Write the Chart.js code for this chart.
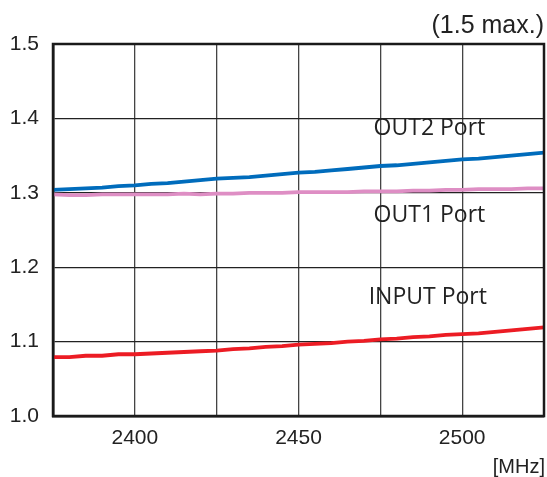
<!DOCTYPE html>
<html>
<head>
<meta charset="utf-8">
<script src="https://cdn.jsdelivr.net/npm/chart.js@4.4.0/dist/chart.umd.min.js"></script>
<style>
  html, body { margin: 0; padding: 0; background: #fff; }
  #wrap { width: 547px; height: 477px; }
</style>
</head>
<body>
<div id="wrap"><canvas id="vswr"></canvas></div>
<script>
// frequency points [MHz]
const freqs = [2375, 2380, 2385, 2390, 2395, 2400, 2405, 2410, 2415, 2420, 2425,
    2430, 2435, 2440, 2445, 2450, 2455, 2460, 2465, 2470, 2475,
    2480, 2485, 2490, 2495, 2500, 2505, 2510, 2515, 2520, 2525];

const out2Vswr = [1.304, 1.305, 1.306, 1.307, 1.309, 1.310, 1.312, 1.313, 1.315, 1.317, 1.319,
    1.320, 1.321, 1.323, 1.325, 1.327, 1.328, 1.330, 1.332, 1.334, 1.336,
    1.337, 1.339, 1.341, 1.343, 1.345, 1.346, 1.348, 1.350, 1.352, 1.354];

const out1Vswr = [1.298, 1.297, 1.297, 1.298, 1.298, 1.298, 1.298, 1.298, 1.299, 1.298, 1.299,
    1.299, 1.300, 1.300, 1.300, 1.301, 1.301, 1.301, 1.301, 1.302, 1.302,
    1.302, 1.303, 1.303, 1.304, 1.304, 1.305, 1.305, 1.305, 1.306, 1.306];

const inputVswr = [1.079, 1.079, 1.081, 1.081, 1.083, 1.083, 1.084, 1.085, 1.086, 1.087, 1.088,
    1.090, 1.091, 1.093, 1.094, 1.096, 1.097, 1.098, 1.100, 1.101, 1.103,
    1.104, 1.106, 1.107, 1.109, 1.110, 1.111, 1.113, 1.115, 1.117, 1.119];

const xGrid = [2375, 2400, 2425, 2450, 2475, 2500, 2525];
const xTickLabels = [2400, 2450, 2500];
const yTicks = [1.0, 1.1, 1.2, 1.3, 1.4, 1.5];

// port name labels, placed in data units
const portLabels = [
    { text: 'OUT2 Port', x: 2490, y: 1.387 },
    { text: 'OUT1 Port', x: 2490, y: 1.269 },
    { text: 'INPUT Port', x: 2489.5, y: 1.160 }
];

function pts(vals) {
    return freqs.map(function (f, i) { return { x: f, y: vals[i] }; });
}

const textPlugin = {
    id: 'textPlugin',
    afterDraw(chart) {
        const ctx = chart.ctx;
        const area = chart.chartArea;
        const xs = chart.scales.x, ys = chart.scales.y;
        ctx.save();
        // frame
        ctx.strokeStyle = '#1a1a1a';
        ctx.lineWidth = 2.5;
        ctx.strokeRect(area.left, area.top, area.right - area.left, area.bottom - area.top);

        ctx.fillStyle = '#222';
        ctx.font = '23px "Open Sans"';
        ctx.textAlign = 'center';
        ctx.textBaseline = 'middle';
        portLabels.forEach(function (l) {
            ctx.fillText(l.text, xs.getPixelForValue(l.x), ys.getPixelForValue(l.y));
        });

        ctx.font = '25px "Liberation Sans"';
        ctx.textAlign = 'right';
        ctx.fillText('(1.5 max.)', 544, 26);
        ctx.font = '20px "Liberation Sans"';
        ctx.fillText('[MHz]', 545, 467);
        ctx.restore();
    }
};

const data = {
    datasets: [
        {
            label: 'OUT2 Port',
            data: pts(out2Vswr),
            borderColor: 'rgb(0, 108, 188)',
            borderWidth: 3.8,
            pointRadius: 0,
            tension: 0
        },
        {
            label: 'OUT1 Port',
            data: pts(out1Vswr),
            borderColor: 'rgb(222, 142, 196)',
            borderWidth: 3.8,
            pointRadius: 0,
            tension: 0
        },
        {
            label: 'INPUT Port',
            data: pts(inputVswr),
            borderColor: 'rgb(236, 28, 36)',
            borderWidth: 3.8,
            pointRadius: 0,
            tension: 0
        }
    ]
};

const config = {
    type: 'line',
    data: data,
    options: {
        responsive: true,
        maintainAspectRatio: false,
        animation: false,
        layout: {
            padding: { top: 44, right: 3, left: 0, bottom: 0 }
        },
        plugins: {
            legend: { display: false },
            tooltip: { enabled: false }
        },
        scales: {
            x: {
                type: 'linear',
                min: 2375,
                max: 2525,
                afterFit: function (scale) {
                    scale.height = 61;
                    scale.paddingLeft = 0;
                    scale.paddingRight = 0;
                },
                afterBuildTicks: function (scale) {
                    scale.ticks = xGrid.map(function (v) { return { value: v }; });
                },
                ticks: {
                    autoSkip: false,
                    maxRotation: 0,
                    padding: 10,
                    color: '#222',
                    font: { family: 'Liberation Sans', size: 21 },
                    callback: function (v) { return xTickLabels.indexOf(v) >= 0 ? String(v) : ''; }
                },
                grid: { color: '#444', lineWidth: 1.3, drawTicks: false },
                border: { color: '#1a1a1a', width: 2.5 }
            },
            y: {
                min: 1.0,
                max: 1.5,
                afterFit: function (scale) {
                    scale.width = 53;
                    scale.paddingTop = 0;
                    scale.paddingBottom = 0;
                },
                afterBuildTicks: function (scale) {
                    scale.ticks = yTicks.map(function (v) { return { value: v }; });
                },
                ticks: {
                    padding: 14,
                    color: '#222',
                    font: { family: 'Liberation Sans', size: 21 },
                    callback: function (v) { return Number(v).toFixed(1); }
                },
                grid: { color: '#222', lineWidth: 1.3, drawTicks: false },
                border: { color: '#1a1a1a', width: 2.5 }
            }
        }
    },
    plugins: [textPlugin]
};

new Chart(document.getElementById('vswr'), config);
</script>
</body>
</html>
